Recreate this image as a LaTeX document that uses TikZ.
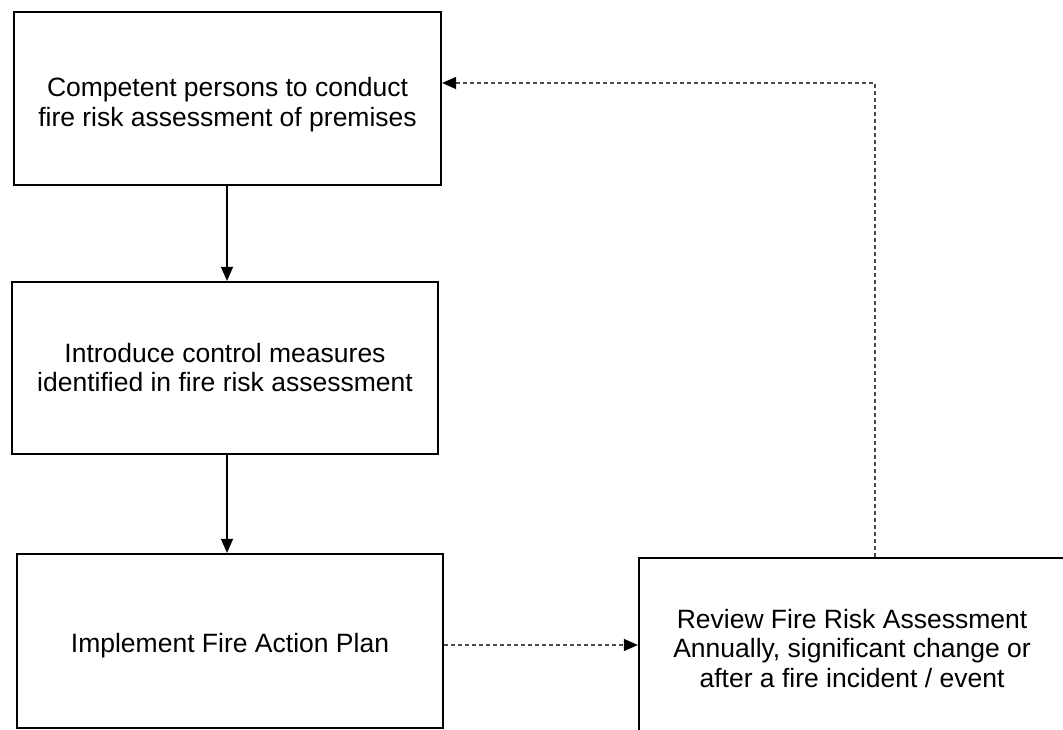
\documentclass[tikz,border=0pt]{standalone}
\usepackage{fontspec}
\setmainfont{Liberation Sans}
\usetikzlibrary{arrows.meta}
\newcommand{\boxtext}[2]{\raisebox{0pt}[\dimexpr\height+#1\relax][\depth]{\begin{tabular}{@{}c@{}}#2\end{tabular}}}
\begin{document}
\begin{tikzpicture}[x=1pt,y=-1pt,
  box/.style={draw=black, line width=2.2pt, fill=white, inner sep=0pt,
    font=\fontsize{26.5}{29.5}\selectfont},
  flow/.style={line width=1.2pt, -{Triangle[length=14pt,width=12pt]}},
  back/.style={line width=1.2pt, draw=black!70, dash pattern=on 4pt off 3pt,
    -{Triangle[length=14pt,width=12pt,color=black]}}]
\clip (0,0) rectangle (1063,730);
\fill[white] (0,0) rectangle (1063,730);
\node[box, minimum width=427pt, minimum height=173pt] (b1) at (227.5,98.5)
  {\boxtext{14pt}{Competent persons to conduct\\fire risk assessment of premises}};
\node[box, minimum width=426pt, minimum height=172pt] (b2) at (225,368)
  {\boxtext{6pt}{Introduce control measures\\identified in fire risk assessment}};
\node[box, minimum width=426pt, minimum height=174pt] (b3) at (230,641)
  {\boxtext{12pt}{Implement Fire Action Plan}};
\node[box, minimum width=426pt, minimum height=178pt] (b4) at (852,647)
  {\boxtext{10pt}{Review Fire Risk Assessment\\Annually, significant change or\\after a fire incident / event}};
\draw[flow] ([xshift=-0.5pt]b1.south) -- ([xshift=-0.5pt]b1.south |- b2.north);
\draw[flow] ([xshift=2pt]b2.south) -- ([xshift=2pt]b2.south |- b3.north);
\draw[back] ([yshift=-4pt]b3.east) -- ([yshift=-4pt]b3.east -| b4.west);
\draw[back] ([xshift=23pt]b4.north) |- ([yshift=15.5pt]b1.east);
\end{tikzpicture}
\end{document}
